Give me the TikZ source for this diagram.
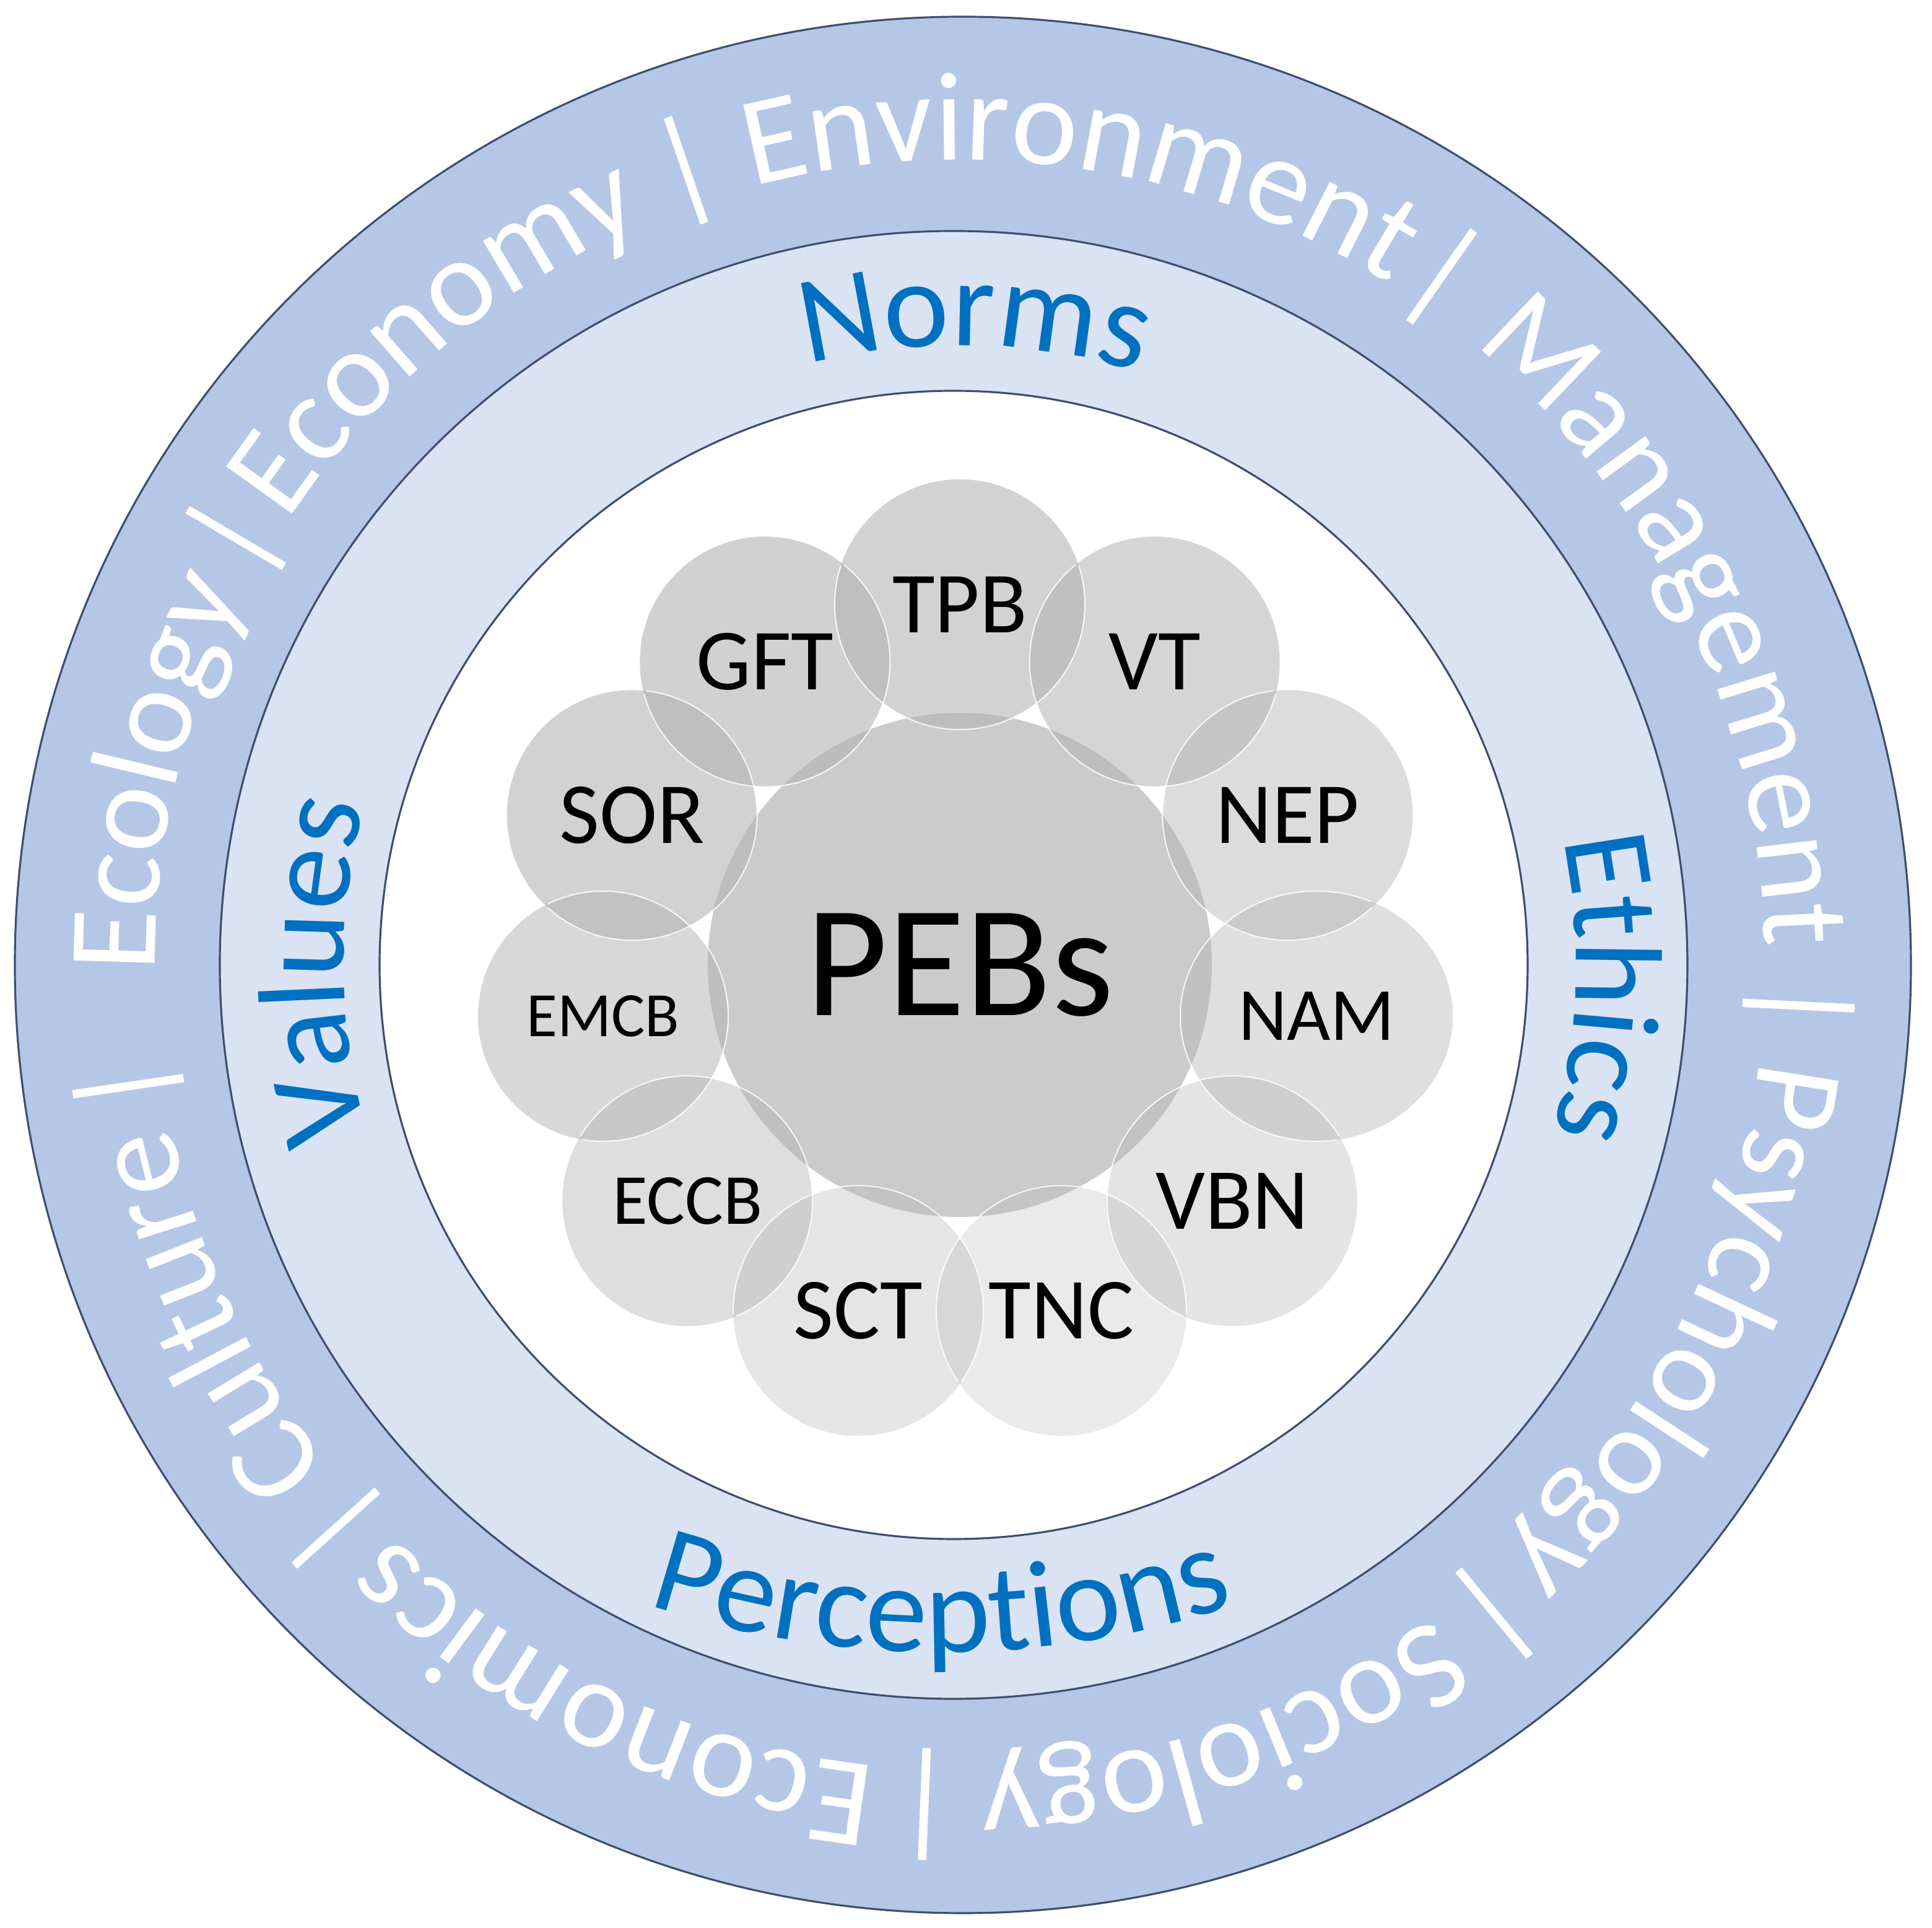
\documentclass[tikz,border=0pt]{standalone}
\usepackage{fontspec}
\setmainfont{Carlito}
\usetikzlibrary{decorations.text, shapes.geometric}

\definecolor{outerblue}{HTML}{B4C7E7}
\definecolor{innerblue}{HTML}{DAE3F3}
\definecolor{ringline}{HTML}{3E4E6E}
\definecolor{wordblue}{HTML}{0070C0}
\definecolor{pebgray}{HTML}{CBCBCB}
\definecolor{theorygray}{HTML}{B3B3B3}

\newcommand{\ringfont}{\fontsize{58}{70}\selectfont}
\newcommand{\normfont}{\fontsize{57}{68}\selectfont}

\begin{document}
\begin{tikzpicture}[
  ring/.style={draw=ringline, line width=0.9pt},
  theory/.style={circle, minimum size=4.04cm, inner sep=0pt, fill=theorygray,
    text=black, text opacity=1, font=\fontsize{40}{48}\selectfont},
  rim/.style={fill=white, fill opacity=0.85, even odd rule},
  ringword/.style={decorate, decoration={text along path, text format delimiters={[}{]},
      text align=center, text={[\ringfont\color{white}]#1}}},
  normword/.style={decorate, decoration={text along path, text align=center,
      text={|\normfont\color{wordblue}|#1}}}
]

  \useasboundingbox (-15.50,-15.55) rectangle (15.70,15.58);

  % rings
  \draw[ring, fill=outerblue] (0.05,0) circle (15.31);
  \draw[ring, fill=innerblue] (-0.10,0) circle (11.85);
  \draw[ring, fill=white] (-0.10,0) circle (9.27);

  % outer ring: disciplines, clockwise
  \path[ringword=Ecology] (206.5:13.0) arc[start angle=206.5, end angle=126.5, radius=13.0];
  \path[ringword=|] (189.5:13.0) arc[start angle=189.5, end angle=109.5, radius=13.0];
  \path[ringword=Economy] (169.8:13.0) arc[start angle=169.8, end angle=89.8, radius=13.0];
  \path[ringword=|] (149:13.0) arc[start angle=149, end angle=69, radius=13.0];
  \path[ringword=Environment] (121.3:13.0) arc[start angle=121.3, end angle=41.3, radius=13.0];
  \path[ringword=|] (95:13.0) arc[start angle=95, end angle=15, radius=13.0];
  \path[ringword=Management] (65.8:13.0) arc[start angle=65.8, end angle=-14.2, radius=13.0];
  \path[ringword=|] (37.2:13.0) arc[start angle=37.2, end angle=-42.8, radius=13.0];
  \path[ringword=Psychology] (13:13.0) arc[start angle=13, end angle=-67, radius=13.0];
  \path[ringword=|] (-10.5:13.0) arc[start angle=-10.5, end angle=-90.5, radius=13.0];
  \path[ringword=Sociology] (-31.3:13.0) arc[start angle=-31.3, end angle=-111.3, radius=13.0];
  \path[ringword=|] (-52.4:13.0) arc[start angle=-52.4, end angle=-132.4, radius=13.0];
  \path[ringword=Economics] (-75.4:13.0) arc[start angle=-75.4, end angle=-155.4, radius=13.0];
  \path[ringword=|] (-97.9:13.0) arc[start angle=-97.9, end angle=-177.9, radius=13.0];
  \path[ringword=Culture] (-115:13.0) arc[start angle=-115, end angle=-195, radius=13.0];
  \path[ringword=|] (-131.7:13.0) arc[start angle=-131.7, end angle=-211.7, radius=13.0];

  % middle ring
  \path[normword=Norms] (128.7:10.0) arc[start angle=128.7, end angle=48.7, radius=10.0];
  \path[normword=Ethics] (38:9.95) arc[start angle=38, end angle=-42, radius=9.95];
  \path[normword=Values] (220.5:9.95) arc[start angle=220.5, end angle=140.5, radius=9.95];
  \path[normword=Perceptions] ([shift={(-0.3,3.9)}]-117:15) arc[start angle=-117, end angle=-63, radius=15];

  % centre
  \node[circle, fill=pebgray, minimum size=8.14cm, inner sep=0pt,
    font=\fontsize{73}{88}\selectfont] (peb) at (0,0) {PEBs};

  % theories round the centre
  \node[theory, fill opacity=0.58] (tpb) at (90:5.82) {TPB};
  \node[theory, fill opacity=0.55] (vt) at (57.27:5.82) {VT};
  \node[theory, fill opacity=0.46] (nep) at (24.55:5.82) {NEP};
  \node[theory, ellipse, minimum width=4.4cm, fill opacity=0.41,
    font=\fontsize{34.5}{41}\selectfont] (nam) at (-8.18:5.82) {NAM};
  \node[theory, fill opacity=0.35] (vbn) at (-40.91:5.82) {VBN};
  \node[theory, fill opacity=0.27] (tnc) at (-73.64:5.82) {TNC};
  \node[theory, fill opacity=0.33] (sct) at (-106.36:5.82) {SCT};
  \node[theory, fill opacity=0.43, font=\fontsize{33}{40}\selectfont] (eccb) at (-139.09:5.82) {ECCB};
  \node[theory, fill opacity=0.50, font=\fontsize{29}{35}\selectfont] (emcb) at (-171.82:5.82) {EMCB};
  \node[theory, fill opacity=0.58] (sor) at (155.45:5.82) {SOR};
  \node[theory, fill opacity=0.60] (gft) at (122.73:5.82) {GFT};

  % white rims where the circles overlap
  \begin{scope}
    \clip (peb.center) circle (6.72);
    \fill[rim] (tpb.center) circle (2.03) circle (2.01);
    \fill[rim] (vt.center) circle (2.03) circle (2.01);
    \fill[rim] (nep.center) circle (2.03) circle (2.01);
    \fill[rim] (nam.center) ellipse (2.21 and 2.03) ellipse (2.19 and 2.01);
    \fill[rim] (vbn.center) circle (2.03) circle (2.01);
    \fill[rim] (tnc.center) circle (2.03) circle (2.01);
    \fill[rim] (sct.center) circle (2.03) circle (2.01);
    \fill[rim] (eccb.center) circle (2.03) circle (2.01);
    \fill[rim] (emcb.center) circle (2.03) circle (2.01);
    \fill[rim] (sor.center) circle (2.03) circle (2.01);
    \fill[rim] (gft.center) circle (2.03) circle (2.01);
  \end{scope}

\end{tikzpicture}
\end{document}
